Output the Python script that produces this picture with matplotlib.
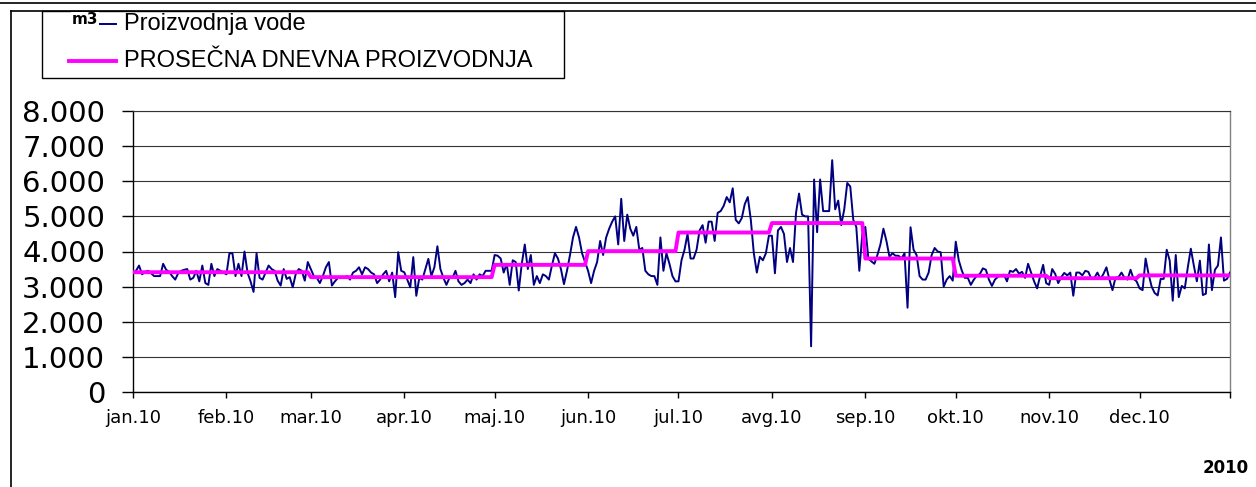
import numpy as np
import matplotlib
matplotlib.use("Agg")
from matplotlib import pyplot as plt
from matplotlib.lines import Line2D
from matplotlib.patches import Rectangle
from matplotlib.ticker import FuncFormatter

W, H = 1256, 487

month_labels = ["jan.10", "feb.10", "mar.10", "apr.10", "maj.10", "jun.10",
                "jul.10", "avg.10", "sep.10", "okt.10", "nov.10", "dec.10"]
days_in_month = [31, 28, 31, 30, 31, 30, 31, 31, 30, 31, 30, 31]

# dnevna proizvodnja vode, m3 (ocitano sa grafika)
jan = [3380, 3450, 3600, 3350, 3420, 3450, 3380, 3300, 3300, 3300, 3650, 3480, 3420, 3300, 3200, 3380,
       3450, 3480, 3500, 3200, 3250, 3450, 3150, 3600, 3100, 3050, 3650, 3300, 3500, 3450, 3400]
feb = [3350, 3950, 3950, 3300, 3650, 3300, 4000, 3400, 3150, 2850, 3950, 3250, 3200, 3400, 3600, 3500,
       3450, 3170, 3030, 3500, 3220, 3270, 2980, 3360, 3500, 3450, 3170, 3700]
mar = [3500, 3300, 3250, 3100, 3300, 3550, 3700, 3030, 3150, 3250, 3250, 3250, 3300, 3200, 3400, 3450,
       3550, 3350, 3550, 3500, 3400, 3350, 3100, 3200, 3350, 3450, 3150, 3400, 2700, 3980, 3450]
apr = [3410, 3200, 2980, 3840, 2740, 3250, 3200, 3500, 3790, 3300, 3550, 4150, 3500, 3250, 3050, 3250,
       3250, 3450, 3150, 3050, 3100, 3200, 3100, 3350, 3200, 3350, 3300, 3450, 3450, 3450]
maj = [3900, 3880, 3800, 3400, 3650, 3050, 3750, 3700, 2890, 3650, 4200, 3500, 3900, 3050, 3300, 3100,
       3350, 3300, 3200, 3600, 3950, 3800, 3500, 3070, 3450, 3900, 4400, 4700, 4400, 3950, 3700]
jun = [3450, 3100, 3450, 3700, 4300, 3900, 4400, 4650, 4850, 5000, 4200, 5500, 4300, 5050, 4650, 4450,
       4700, 4050, 4100, 3450, 3350, 3300, 3300, 3050, 4400, 3450, 3950, 3650, 3300, 3150]
jul = [3150, 3750, 4050, 4500, 3800, 3800, 4050, 4600, 4750, 4250, 4850, 4850, 4300, 5100, 5150, 5300,
       5550, 5400, 5800, 4900, 4800, 4950, 5350, 5550, 4900, 3950, 3400, 3850, 3750, 3950, 4450]
avg_ = [4450, 3380, 4600, 4700, 4500, 3700, 4100, 3700, 5100, 5650, 5050, 5000, 5000, 1300, 6050, 4550,
        6050, 5150, 5150, 5150, 6600, 5200, 5450, 4750, 5200, 5950, 5850, 4900, 4700, 3450, 4500]
sep = [4700, 3800, 3720, 3650, 3900, 4200, 4650, 4300, 3850, 3950, 3880, 3880, 3800, 3950, 2400, 4690,
       4050, 3900, 3300, 3200, 3200, 3400, 3900, 4100, 4000, 3980, 3000, 3200, 3300, 3170]
okt = [4280, 3750, 3460, 3250, 3250, 3050, 3200, 3310, 3360, 3520, 3480, 3200, 3020, 3200, 3280, 3320,
       3340, 3150, 3450, 3420, 3500, 3370, 3420, 3250, 3650, 3400, 3150, 2950, 3300, 3620, 3100]
nov = [3050, 3500, 3360, 3100, 3270, 3390, 3320, 3400, 2740, 3400, 3400, 3320, 3450, 3420, 3220, 3250,
       3400, 3220, 3360, 3550, 3200, 2900, 3250, 3270, 3400, 3250, 3200, 3480, 3220, 3150]
dec = [2950, 2900, 3800, 3350, 3000, 2820, 2750, 3220, 3220, 4050, 3740, 2600, 3900, 2700, 3020, 2950,
       3550, 4080, 3600, 3150, 3740, 2760, 2800, 4200, 2900, 3480, 3600, 4400, 3170, 3220, 3400]

# prosecna dnevna proizvodnja po mesecima
monthly_avg = [3410, 3410, 3270, 3270, 3620, 4010, 4540, 4810, 3800, 3310, 3240, 3320]

production = np.array(jan + feb + mar + apr + maj + jun + jul + avg_ + sep + okt + nov + dec)
average = np.repeat(monthly_avg, days_in_month)
days = np.arange(len(production))
month_starts = np.concatenate([[0], np.cumsum(days_in_month)[:-1]])

NAVY = "#000080"
MAGENTA = "#FF00FF"


def fx(px):
    return px / W


def fy(py):
    return 1 - py / H


fig = plt.figure(figsize=(W / 100, H / 100), dpi=100)
fig.patch.set_facecolor("white")

ax = fig.add_axes([fx(133), fy(392), fx(1230) - fx(133), fy(111) - fy(392)])
ax.plot(days, production, color=NAVY, lw=1.4, zorder=3)
ax.plot(days, average, color=MAGENTA, lw=2.8, zorder=4)

ax.set_xlim(0, len(production) - 1)
ax.set_ylim(0, 8000)
ax.set_yticks(range(0, 8001, 1000))
ax.yaxis.set_major_formatter(FuncFormatter(lambda v, p: f"{int(v):,}".replace(",", ".")))
ax.set_xticks(list(month_starts) + [len(production) - 1])
ax.set_xticklabels(month_labels + [""])
ax.yaxis.grid(True, color="#333333", lw=0.8)
ax.set_axisbelow(True)

for side in ["left", "bottom"]:
    ax.spines[side].set_color("black")
    ax.spines[side].set_linewidth(1.0)
ax.spines["top"].set_color("#333333")
ax.spines["top"].set_linewidth(0.8)
ax.spines["right"].set_color("#808080")
ax.spines["right"].set_linewidth(1.0)

ax.tick_params(axis="x", length=4, width=1, labelsize=13, pad=8)
ax.tick_params(axis="y", length=8, width=1, labelsize=21, pad=12)

# okvir
fig.add_artist(Line2D([0, 1], [fy(3), fy(3)], transform=fig.transFigure, color="black", lw=1.2))
fig.add_artist(Line2D([fx(11), fx(11)], [fy(11), 0], transform=fig.transFigure, color="black", lw=1.2))
fig.add_artist(Line2D([fx(11), 1], [fy(11), fy(11)], transform=fig.transFigure, color="black", lw=1.2))

# legenda
row1, row2 = 24, 61
fig.add_artist(Rectangle((fx(42), fy(78)), fx(564) - fx(42), fy(11) - fy(78),
                         transform=fig.transFigure, facecolor="white", edgecolor="black", lw=1.0))
fig.add_artist(Line2D([fx(69), fx(116)], [fy(row1), fy(row1)], transform=fig.transFigure, color=NAVY, lw=1.4))
fig.add_artist(Line2D([fx(69), fx(116)], [fy(row2), fy(row2)], transform=fig.transFigure, color=MAGENTA, lw=2.8))
fig.text(fx(124), fy(row1), "Proizvodnja vode", fontsize=17, family="Liberation Sans",
         va="center", ha="left")
fig.text(fx(124), fy(row2), "PROSEČNA DNEVNA PROIZVODNJA", fontsize=17, family="Liberation Sans",
         va="center", ha="left")
fig.text(fx(72), fy(row1 - 4), "m3", fontsize=11, fontweight="bold", va="center", ha="left",
         bbox=dict(facecolor="white", edgecolor="none", pad=0.5))
# white patch so the navy sample shows only right of "m3"
fig.add_artist(Rectangle((fx(68), fy(row1 + 3)), fx(72) - fx(68), fy(row1 - 3) - fy(row1 + 3),
                         transform=fig.transFigure, facecolor="white", edgecolor="none", zorder=2.5))

fig.text(fx(1203), fy(468), "2010", fontsize=12, fontweight="bold", va="center", ha="left")

fig.savefig("out.png", dpi=100)
